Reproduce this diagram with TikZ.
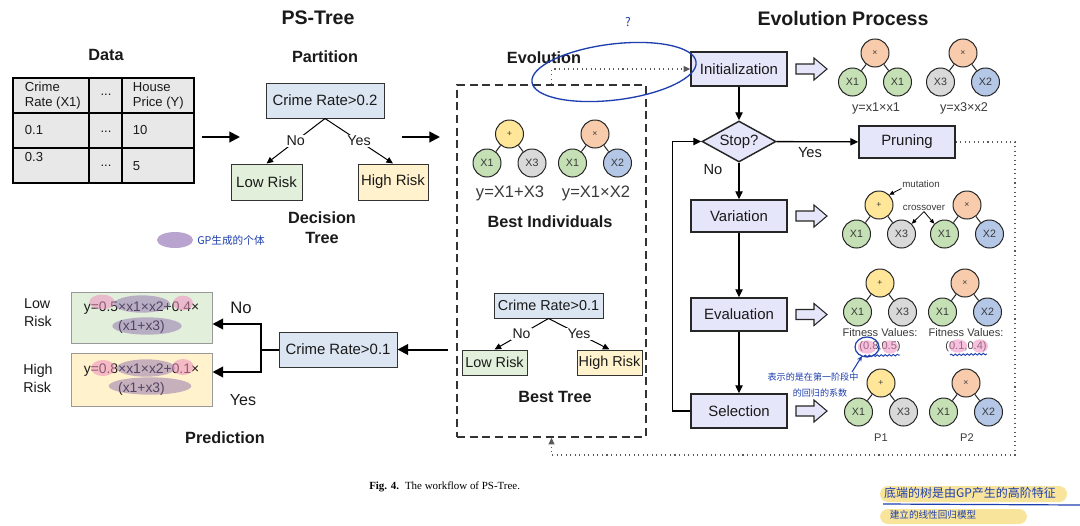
\documentclass[tikz,border=0pt]{standalone}
\usepackage{fontspec}
\setmainfont{Liberation Sans}
\newfontfamily\capfont{Liberation Serif}
\newfontfamily\cjk{Noto Sans CJK SC}
\usetikzlibrary{arrows.meta,shapes.geometric,calc,decorations.pathmorphing}
\definecolor{cBlue}{HTML}{DCE6F2}
\definecolor{cGreen}{HTML}{E2EFDA}
\definecolor{cYellow}{HTML}{FFF2CC}
\definecolor{cLav}{HTML}{E6E6FA}
\definecolor{cTable}{HTML}{E8E8E8}
\definecolor{nYel}{HTML}{FFE699}
\definecolor{nOra}{HTML}{F8CBAD}
\definecolor{nGrn}{HTML}{C5E0B4}
\definecolor{nGry}{HTML}{D9D9D9}
\definecolor{nBlu}{HTML}{B4C7E7}
\definecolor{ink}{HTML}{1E3FAE}
\definecolor{hlPink}{HTML}{EE8FC0}
\definecolor{hlPurple}{HTML}{8E6FAE}
\definecolor{hlLilac}{HTML}{B9A3CF}
\definecolor{hlYellow}{HTML}{F6DC7A}
\definecolor{txt}{HTML}{1A1A1A}
\definecolor{gtxt}{HTML}{3A3A3A}
\newcommand\fs[1]{\fontsize{#1}{#1}\selectfont}
\newcommand\fsb[2]{\fontsize{#1}{#2}\selectfont}
\newcommand\gptree[9]{%
  \node[gpnode,fill=#4,font=\fs{6.5}] (#1r) at (#2,#3) {#5};
  \node[gpnode,fill=#6] (#1a) at (#2-22.5,#3+29) {#7};
  \node[gpnode,fill=#8] (#1b) at (#2+22.5,#3+29) {#9};
  \draw[treeedge] (#1r) -- (#1a);
  \draw[treeedge] (#1r) -- (#1b);
}
\tikzset{
  gpnode/.style={circle, draw=black!85, line width=0.75pt, minimum size=21pt, inner sep=0pt, font=\fs{8}, text=gtxt},
  treeedge/.style={line width=0.75pt, black!85},
  box/.style={draw=black!80, line width=0.75pt, inner xsep=0.5pt, inner ysep=1pt, text=txt, font=\fs{11.2}},
  flow/.style={draw=black!85, line width=1.1pt, fill=cLav, minimum width=72pt, text=txt, font=\fs{11.2}},
  title/.style={font=\bfseries\fs{14.7}, text=txt},
  sect/.style={font=\bfseries\fs{12.2}, text=txt},
  lbl/.style={text=txt, inner sep=0.5pt},
  bigarr/.style={line width=1.5pt, -{Triangle[length=8pt,width=8pt]}},
  flowarr/.style={line width=1pt, -{Triangle[length=6pt,width=5.5pt]}},
  treearr/.style={line width=0.75pt, -{Triangle[length=5pt,width=4.5pt]}},
  smallarr/.style={line width=0.6pt, -{Triangle[length=3.5pt,width=3pt]}},
  dotline/.style={line width=0.8pt, black!65, dash pattern=on 0.8pt off 2.6pt, -{Triangle[length=5pt,width=4.5pt]}},
  hollow/.pic={\draw[fill=cLav, line width=0.8pt, draw=black!85] (0,-5)--(18,-5)--(18,-11)--(31,0)--(18,11)--(18,5)--(0,5)--cycle;},
  hw/.style={text=ink, font=\cjk\fs{8}, inner sep=0pt},
}
\begin{document}
\begin{tikzpicture}[x=0.75pt,y=-0.75pt]
\useasboundingbox[fill=white] (0,0) rectangle (1080,525);

% ---------- titles ----------
\node[title] (tPS) at (318,18) {PS-Tree};
\node[title] (tEP) at (843,18) {Evolution Process};
\node[sect] (tData) at (106,55) {Data};
\node[sect] (tPart) at (325,57) {Partition};
\node[sect] (tEvo) at (544,58) {Evolution};

% ---------- data table ----------
\draw[line width=1.5pt, fill=cTable] (12.5,78) rectangle (194,183);
\draw[line width=1.2pt] (89,78)--(89,183) (122,78)--(122,183) (12.5,113)--(194,113) (12.5,148)--(194,148);
\node[lbl, anchor=west, align=left, font=\fsb{9.8}{11.25}] (c11) at (24,95.5) {Crime\\Rate (X1)};
\node[lbl, font=\fs{9.8}] (c12) at (106,95) {...};
\node[lbl, anchor=west, align=left, font=\fsb{9.8}{11.25}] (c13) at (132,95.5) {House\\Price (Y)};
\node[lbl, anchor=west, font=\fs{9.8}] (c21) at (24,130) {0.1};
\node[lbl, font=\fs{9.8}] (c22) at (106,132) {...};
\node[lbl, anchor=west, font=\fs{9.8}] (c23) at (132,130) {10};
\node[lbl, anchor=west, font=\fs{9.8}] (c31) at (24,157) {0.3};
\node[lbl, font=\fs{9.8}] (c32) at (106,166) {...};
\node[lbl, anchor=west, font=\fs{9.8}] (c33) at (132,166) {5};

\coordinate (a1s) at (202,137);
\coordinate (a1e) at (240,137);
\draw[bigarr] (a1s) -- (a1e);

% ---------- partition tree ----------
\node[box, fill=cBlue, minimum width=88.5pt, minimum height=26.25pt] (p0) at (325,100.5) {Crime Rate>0.2};
\node[box, fill=cGreen, minimum width=53.25pt, minimum height=27pt] (pl) at (266.5,182) {Low Risk};
\node[box, fill=cYellow, minimum width=52.5pt, minimum height=27pt] (ph) at (393,182) {High Risk};
\draw[treearr] (p0.south) -- node[fill=white, inner sep=1pt, text=txt, font=\fs{10.7}] {No} (pl.north);
\draw[treearr] (p0.south) -- node[fill=white, inner sep=1pt, text=txt, font=\fs{10.7}] {Yes} (ph.north);
\node[sect, align=center, font=\bfseries\fsb{12.2}{15}] (tDT) at (322,228) {Decision\\Tree};

\coordinate (a2s) at (402,137);
\coordinate (a2e) at (440,137);
\draw[bigarr] (a2s) -- (a2e);

% ---------- evolution (dashed box) ----------
\node[draw=black!80, line width=1.2pt, dash pattern=on 6pt off 3.5pt, minimum width=141.75pt, minimum height=264pt] (evo) at (551.5,261) {};
\gptree{bi1}{509.5}{134}{nYel}{+}{nGrn}{X1}{nGry}{X3}
\gptree{bi2}{595}{134}{nOra}{×}{nGrn}{X1}{nBlu}{X2}
\node[lbl, text=gtxt, font=\fs{12.4}] (f1) at (510,193) {y=X1+X3};
\node[lbl, text=gtxt, font=\fs{12.4}] (f2) at (596,193) {y=X1×X2};
\node[sect] (tBI) at (550,222) {Best Individuals};

\node[box, fill=cBlue, minimum width=81.75pt, minimum height=18.75pt, font=\fs{10.8}] (b0) at (548.5,305.5) {Crime Rate>0.1};
\node[box, fill=cGreen, minimum width=48.75pt, minimum height=18.75pt, font=\fs{10.8}] (bl) at (494.5,362.5) {Low Risk};
\node[box, fill=cYellow, minimum width=48.75pt, minimum height=18.75pt, font=\fs{10.8}] (bh) at (609.5,362.5) {High Risk};
\draw[treearr] (b0.south) -- node[fill=white, inner sep=1pt, text=txt, font=\fs{10.5}] {No} (bl.north);
\draw[treearr] (b0.south) -- node[fill=white, inner sep=1pt, text=txt, font=\fs{10.5}] {Yes} (bh.north);
\node[sect] (tBT) at (555,397) {Best Tree};

% ---------- prediction ----------
\node[box, fill=cBlue, minimum width=88.5pt, minimum height=26.25pt] (pc) at (338,349.5) {Crime Rate>0.1};
\node[draw=black!40, line width=0.75pt, fill=cGreen, minimum width=105.75pt, minimum height=38.25pt, align=center, text=txt, font=\fsb{10.4}{14.5}] (gb) at (141.5,317.5) {y=0.5×x1×x2+0.4×\\(x1+x3)};
\node[draw=black!40, line width=0.75pt, fill=cYellow, minimum width=105.75pt, minimum height=39.75pt, align=center, text=txt, font=\fsb{10.4}{14.5}] (yb) at (141.5,379.5) {y=0.8×x1×x2+0.1×\\(x1+x3)};
\node[lbl, align=left, font=\fsb{10.7}{13.5}] (lr) at (38,313) {Low\\Risk};
\node[lbl, align=left, font=\fsb{10.7}{13.5}] (hr) at (38,378) {High\\Risk};
\coordinate (pj) at (261,349.5);
\draw[line width=1.5pt] (pc.west) -- (pj);
\draw[bigarr] (pj) |- ($(gb.east)+(0,6.5)$);
\draw[bigarr] (pj) |- ($(yb.east)+(0,-7.5)$);
\node[lbl, font=\fs{12.5}] (pno) at (241,308) {No};
\node[lbl, font=\fs{12}] (pyes) at (243,400) {Yes};
\node[sect] (tPred) at (225,438) {Prediction};
\coordinate (a3s) at (448,349.5);
\draw[bigarr] (a3s) -- (pc.east);

% ---------- flowchart ----------
\node[flow, minimum height=25.5pt] (init) at (739,69) {Initialization};
\node[flow, diamond, minimum width=55.5pt, minimum height=30.75pt, aspect=1.8, inner sep=0pt] (stop) at (739,141.5) {Stop?};
\node[flow, minimum height=24pt] (var) at (739,216) {Variation};
\node[flow, minimum height=24.75pt] (eval) at (739,314.5) {Evaluation};
\node[flow, minimum height=25.5pt] (sel) at (739,411) {Selection};
\node[flow, minimum height=24pt] (pru) at (907,142) {Pruning};
\draw[flowarr] (init) -- (stop);
\draw[flowarr] (stop) -- (var);
\draw[flowarr] (stop) -- (pru);
\draw[flowarr] (var) -- (eval);
\draw[flowarr] (eval) -- (sel);
\draw[flowarr] (sel.west) -- ++(-18,0) |- (stop.west);
\node[lbl, font=\fs{11}] (fno) at (713,170) {No};
\node[lbl, font=\fs{11}] (fyes) at (810,153) {Yes};

\pic at (796,69) {hollow};
\pic at (796,216) {hollow};
\pic at (796,314.5) {hollow};
\pic at (796,411) {hollow};

% dotted links
\draw[dotline] (evo.north) |- (init.west);
\coordinate (dc) at (1015,455);
\draw[dotline] (pru.east) -| (dc) -| (evo.south);

% init trees
\gptree{in1}{875}{53}{nOra}{×}{nGrn}{X1}{nGrn}{X1}
\gptree{in2}{963}{53}{nOra}{×}{nGry}{X3}{nBlu}{X2}
\node[lbl, text=gtxt, font=\fs{9.5}] (fi1) at (876,108) {y=x1×x1};
\node[lbl, text=gtxt, font=\fs{9.5}] (fi2) at (964,108) {y=x3×x2};

% variation trees
\gptree{va1}{879}{205}{nYel}{+}{nGrn}{X1}{nGry}{X3}
\gptree{va2}{967}{205}{nOra}{×}{nGrn}{X1}{nBlu}{X2}
\node[lbl, text=gtxt, font=\fs{7.3}] (mut) at (921,184) {mutation};
\node[lbl, text=gtxt, font=\fs{7.3}] (cro) at (924,208) {crossover};
\draw[smallarr] (mut.south west) -- (va1r.north east);
\draw[smallarr] (cro.south) -- (va1b.north east);
\draw[smallarr] (cro.south) -- (va2a.north west);

% evaluation trees
\gptree{ev1}{880}{283}{nYel}{+}{nGrn}{X1}{nGry}{X3}
\gptree{ev2}{965}{283}{nOra}{×}{nGrn}{X1}{nBlu}{X2}
\node[lbl, text=gtxt, font=\fs{8.3}] (fv1) at (880,333) {Fitness Values:};
\node[lbl, text=gtxt, font=\fs{8.3}] (fv1b) at (880,347) {(0.8,0.5)};
\node[lbl, text=gtxt, font=\fs{8.3}] (fv2) at (966,333) {Fitness Values:};
\node[lbl, text=gtxt, font=\fs{8.3}] (fv2b) at (966,347) {(0.1,0.4)};

% selection trees
\gptree{se1}{881}{383}{nYel}{+}{nGrn}{X1}{nGry}{X3}
\gptree{se2}{966}{383}{nOra}{×}{nGrn}{X1}{nBlu}{X2}
\node[lbl, text=gtxt, font=\fs{8.3}] (p1) at (881,438) {P1};
\node[lbl, text=gtxt, font=\fs{8.3}] (p2) at (967,438) {P2};

% ---------- caption ----------
\node[anchor=west, inner sep=0pt, text=black, font=\capfont\fs{8.2}] (cap) at (369,487) {\textbf{Fig. 4.}\hspace{0.55em}The workflow of PS-Tree.};

% ---------- handwritten annotations ----------
\fill[hlPink, opacity=0.55] (102,302) ellipse [x radius=9.5pt, y radius=5.5pt];
\fill[hlPurple, opacity=0.5] (142,304) ellipse [x radius=21pt, y radius=6.5pt];
\fill[hlPink, opacity=0.55] (183,303) ellipse [x radius=7.5pt, y radius=5.5pt];
\fill[hlPurple, opacity=0.5] (147,326) ellipse [x radius=26pt, y radius=6.5pt];
\fill[hlPink, opacity=0.55] (103,368) ellipse [x radius=9pt, y radius=6pt];
\fill[hlPurple, opacity=0.5] (146,368) ellipse [x radius=22pt, y radius=6.5pt];
\fill[hlPink, opacity=0.55] (183,367) ellipse [x radius=8pt, y radius=6pt];
\fill[hlPurple, opacity=0.5] (150,386) ellipse [x radius=31pt, y radius=6.5pt];
\fill[hlLilac] (175,240) ellipse [x radius=13.5pt, y radius=6pt];
\node[hw, anchor=west] (n1) at (197,240) {GP生成的个体};
\draw[ink, line width=1pt, rotate around={7:(614,72)}] (614,72) ellipse [x radius=62pt, y radius=21pt];
\node[hw, font=\cjk\fs{9}] (q) at (628,22) {?};
\fill[hlPink, opacity=0.55] (867,347) ellipse [x radius=7pt, y radius=5pt];
\fill[hlPink, opacity=0.55] (890,347) ellipse [x radius=6pt, y radius=5pt];
\fill[hlPink, opacity=0.55] (958,346) ellipse [x radius=7pt, y radius=5pt];
\fill[hlPink, opacity=0.55] (980,346) ellipse [x radius=6pt, y radius=5pt];
\draw[ink, line width=0.9pt] (867,347) ellipse [x radius=9pt, y radius=7.5pt];
\draw[ink, line width=0.7pt, decorate, decoration={snake, amplitude=0.6pt, segment length=3pt}] (864,356) -- (900,355);
\draw[ink, line width=0.7pt, decorate, decoration={snake, amplitude=0.6pt, segment length=3pt}] (950,355) -- (987,354);
\node[hw, font=\cjk\fs{6.8}] (n2) at (813,377) {表示的是在第一阶段中};
\node[hw, font=\cjk\fs{6.8}] (n3) at (820,393) {的回归的系数};
\coordinate (n2a) at (852,372);
\coordinate (n2b) at (862,356);
\draw[ink, line width=0.8pt, -{Stealth[length=4pt,width=3.5pt]}] (n2a) -- (n2b);
\fill[hlYellow, opacity=0.75, rounded corners=6pt] (880,486) rectangle (1067,502);
\fill[hlYellow, opacity=0.75, rounded corners=6pt] (880,509) rectangle (1027,524);
\node[hw, font=\cjk\fs{9}] (n4) at (970,493) {底端的树是由GP产生的高阶特征};
\node[hw, font=\cjk\fs{7.2}] (n5) at (933,515) {建立的线性回归模型};
\draw[ink, line width=0.9pt] (883,504) -- (1080,505);
\end{tikzpicture}
\end{document}
